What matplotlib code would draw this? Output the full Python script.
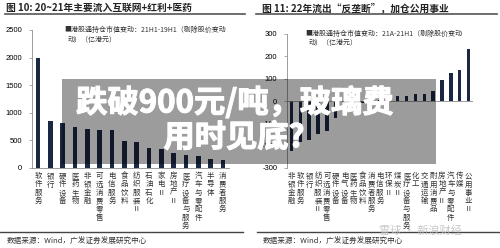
import matplotlib
matplotlib.use("Agg")
from matplotlib import pyplot as plt
from matplotlib.patches import Rectangle
from matplotlib.lines import Line2D
import matplotlib.patheffects as pe

plt.rcParams['font.family'] = ['Noto Sans CJK SC', 'DejaVu Sans']

# ---- data: figure 10 (21H1-19H1)
left_cats = ["软件服务", "银行", "硬件设备", "医药生物", "非银金融", "可选消费零售",
             "电信服务", "食品饮料", "纺织服装Ⅱ", "石油石化", "家电Ⅱ", "房地产Ⅱ",
             "医疗设备与服务", "汽车与零配件", "半导体", "消费者服务"]
left_vals = [2000, 855, 820, 740, 710, 693, 680, 495, 462, 360, 343, 265,
             241, 217, 157, 145]
left_yticks = [0, 500, 1000, 1500, 2000, 2500]

# ---- data: figure 11 (21A-21H1)
right_cats = ["非银金融", "软件服务", "银行", "纺织服装Ⅱ", "可选消费零售", "硬件设备",
              "电气设备", "医药生物", "食品饮料", "消费者服务", "电信服务", "环保Ⅱ",
              "煤炭Ⅱ", "医疗设备与服务", "化工", "交通运输", "耐用消费品", "房地产Ⅱ",
              "汽车与零配件", "传媒", "公用事业Ⅱ"]
right_vals = [-222, -183, -176, -147, -136, -76, -40, -15, -8, -4, 5, 14,
              23, 24, 31, 32, 43, 94, 126, 139, 233]
right_yticks = [-300, -200, -100, 0, 100, 200, 300]

W, H = 500, 248
bar_color = "#1b2844"
grey = "#8c8c8c"


def box(x0, y0, x1, y1):
    # pixel box (top-left origin) -> figure fraction rect
    return [x0 / W, 1 - y1 / H, (x1 - x0) / W, (y1 - y0) / H]


def vert(s):
    return "\n".join(list(s))


fig = plt.figure(figsize=(W / 100, H / 100), dpi=100)

# ------------------------------------------------------------ left chart
ax1 = fig.add_axes(box(32, 30, 229, 168))
ax1.bar(range(len(left_vals)), left_vals, width=0.38, color=bar_color)
ax1.set_xlim(-0.5, len(left_vals) - 0.5)
ax1.set_ylim(0, 2500)
ax1.set_yticks(left_yticks)
ax1.set_yticklabels([str(v) for v in left_yticks], fontsize=5.5, family='Liberation Sans')
ax1.set_xticks(range(len(left_cats)))
ax1.set_xticklabels([vert(c) for c in left_cats], fontsize=5.4, linespacing=1.05,
                    va='top', color="#333333")
ax1.tick_params(axis='x', length=0, pad=3)
ax1.tick_params(axis='y', length=2, width=0.5, color=grey, pad=5)
for s in ["top", "right"]:
    ax1.spines[s].set_visible(False)
ax1.spines["left"].set_color(grey)
ax1.spines["left"].set_linewidth(0.6)
ax1.spines["bottom"].set_color(grey)
ax1.spines["bottom"].set_linewidth(0.6)

# ------------------------------------------------------------ right chart
ax2 = fig.add_axes(box(287, 34, 473, 168))
ax2.bar(range(len(right_vals)), right_vals, width=0.4, color=bar_color)
ax2.set_xlim(-0.5, len(right_vals) - 0.5)
ax2.set_ylim(-300, 300)
ax2.set_yticks(right_yticks)
ax2.set_yticklabels([str(v) for v in right_yticks], fontsize=5.5, family='Liberation Sans')
ax2.set_xticks(range(len(right_cats)))
ax2.set_xticklabels([vert(c) for c in right_cats], fontsize=5.4, linespacing=1.05,
                    va='top', color="#333333")
ax2.tick_params(axis='x', length=0, pad=3)
ax2.tick_params(axis='y', length=2, width=0.5, color=grey, pad=5)
for s in ["top", "right", "bottom"]:
    ax2.spines[s].set_visible(False)
ax2.spines["left"].set_color(grey)
ax2.spines["left"].set_linewidth(0.6)
ax2.axhline(0, color=grey, lw=0.6)

# ------------------------------------------------------------ titles, legends, source
fig.text(6 / W, 1 - 8 / H, "图 10: 20~21年主要流入互联网+红利+医药", fontsize=7,
         fontweight='bold', va='center', color="#222222")
fig.text(262 / W, 1 - 8 / H, "图 11: 22年流出“反垄断”，加仓公用事业", fontsize=7,
         fontweight='bold', va='center', color="#222222")
fig.add_artist(Line2D([5 / W, 245 / W], [1 - 14 / H] * 2, color="#555555", lw=1.2))
fig.add_artist(Line2D([256 / W, 497 / W], [1 - 14 / H] * 2, color="#555555", lw=1.2))

fig.text(64 / W, 1 - 30 / H, "■港股通持仓市值变动：21H1-19H1（剔除股价变动", fontsize=5,
         va='center', color="#333333")
fig.text(68 / W, 1 - 40 / H, "动）（亿港元）", fontsize=5, va='center', color="#333333")
fig.text(305 / W, 1 - 34 / H, "■港股通持仓市值变动：21A-21H1（剔除股价变动", fontsize=5,
         va='center', color="#333333")
fig.text(309 / W, 1 - 43 / H, "动）（亿港元）", fontsize=5, va='center', color="#333333")

fig.add_artist(Line2D([0, 243 / W], [1 - 232 / H] * 2, color="#444444", lw=1.0))
fig.add_artist(Line2D([257 / W, 1], [1 - 232 / H] * 2, color="#444444", lw=1.0))
fig.text(7 / W, 1 - 242 / H, "数据来源：Wind，广发证券发展研究中心", fontsize=5.5,
         va='center', color="#333333")
fig.text(263 / W, 1 - 242 / H, "数据来源：Wind，广发证券发展研究中心", fontsize=5.5,
         va='center', color="#333333")
fig.text(420 / W, 1 - 230 / H, "雪球 · 新浪财经", fontsize=8, ha='center',
         va='center', color="#bbbbbb", alpha=0.8)

# ------------------------------------------------------------ overlay banner
fig.patches.append(Rectangle((62 / W, 1 - 164 / H), (436 - 62) / W, (164 - 79) / H,
                             transform=fig.transFigure, facecolor="black",
                             alpha=0.39, edgecolor='none', zorder=10))
thick = [pe.withStroke(linewidth=0.8, foreground="white")]
fig.text(235 / W, 1 - 103 / H, "跌破900元/吨，玻璃费", fontsize=22.5, fontweight='bold',
         color="white", ha='center', va='center', zorder=11, path_effects=thick)
fig.text(234 / W, 1 - 138 / H, "用时见底?", fontsize=22.5, fontweight='bold',
         color="white", ha='center', va='center', zorder=11, path_effects=thick)

fig.savefig("out.png", dpi=100)
